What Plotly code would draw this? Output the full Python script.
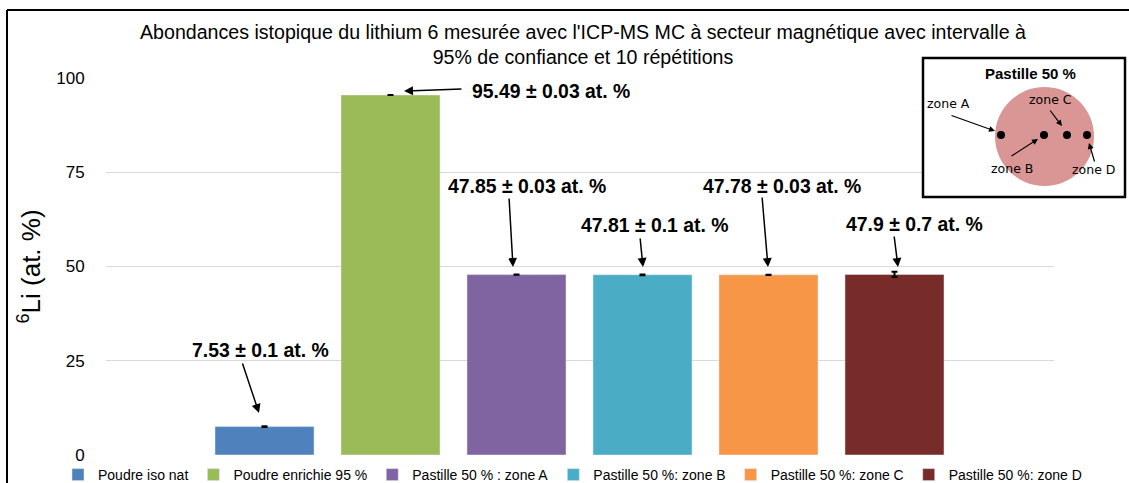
import plotly.graph_objects as go

# data
series = ["Poudre iso nat", "Poudre enrichie 95 %", "Pastille 50 % : zone A",
          "Pastille 50 %: zone B", "Pastille 50 %: zone C", "Pastille 50 %: zone D"]
values = [7.53, 95.49, 47.85, 47.81, 47.78, 47.9]
errors = [0.1, 0.03, 0.03, 0.1, 0.03, 0.7]
labels = ["7.53 ± 0.1 at. %", "95.49 ± 0.03 at. %", "47.85 ± 0.03 at. %",
          "47.81 ± 0.1 at. %", "47.78 ± 0.03 at. %", "47.9 ± 0.7 at. %"]
colors = ["#4F81BD", "#9BBB59", "#8064A2", "#4BACC6", "#F79646", "#772C2A"]
zones = ["zone A", "zone B", "zone C", "zone D"]

W, H = 1129, 483
L, R, T, B = 106, 1054, 78, 455  # plot area in pixels
FONT = "Liberation Sans, Arial, sans-serif"


def px(x):
    return (x - L) / (R - L)


def py(y):
    return (B - y) / (B - T)


fig = go.Figure()
for name, v, e, c in zip(series, values, errors, colors):
    fig.add_trace(go.Bar(
        x=[name], y=[v], name=name, marker_color=c, width=0.786,
        error_y=dict(type="data", array=[e], color="black", thickness=2, width=3),
    ))

# value labels and arrows (text centre, arrow tail, arrow head in pixels)
text_pos = [(260, 350), (551, 91), (527, 186), (655, 225), (782, 186), (914, 224)]
arrows = [((242, 362), (259, 413)), ((463, 89), (404, 91)), ((509, 197), (513, 267)),
          ((640, 237), (643, 267)), ((762, 196), (768, 267)), ((894, 235), (898, 267))]
ann = []
for lab, (tx, ty) in zip(labels, text_pos):
    ann.append(dict(x=px(tx), y=py(ty), xref="paper", yref="paper", text="<b>%s</b>" % lab,
                    xanchor="center", yanchor="middle", showarrow=False,
                    font=dict(size=19.4, color="black", family=FONT)))
for (t, h) in arrows:
    ann.append(dict(x=px(h[0]), y=py(h[1]), xref="paper", yref="paper", text="",
                    showarrow=True, ax=t[0] - h[0], ay=t[1] - h[1], arrowhead=2,
                    arrowsize=1.2, arrowwidth=1.5, arrowcolor="black", standoff=0))

# inset "Pastille 50 %"
shapes = [
    dict(type="line", xref="paper", yref="paper", x0=px(7), x1=px(7), y0=py(10), y1=py(490),
         line=dict(color="black", width=2)),
    dict(type="line", xref="paper", yref="paper", x0=px(7), x1=px(1135), y0=py(10), y1=py(10),
         line=dict(color="black", width=2)),
    dict(type="rect", xref="paper", yref="paper", x0=px(923), x1=px(1125), y0=py(58), y1=py(197),
         line=dict(color="black", width=2.5), fillcolor="white"),
    dict(type="circle", xref="paper", yref="paper", x0=px(995), x1=px(1094), y0=py(87), y1=py(186),
         line=dict(width=0), fillcolor="#D99694"),
]
dots = [(1001, 135), (1044, 135), (1067, 135), (1087, 135)]
for (dx, dy) in dots:
    shapes.append(dict(type="circle", xref="paper", yref="paper", x0=px(dx - 4), x1=px(dx + 4),
                       y0=py(dy - 4), y1=py(dy + 4), line=dict(width=0), fillcolor="black"))
ann.append(dict(x=px(1030), y=py(73), xref="paper", yref="paper", text="<b>Pastille 50 %</b>",
                xanchor="center", yanchor="middle", showarrow=False,
                font=dict(size=15, color="black", family=FONT)))
zone_text = [(948, 103), (1012, 168), (1050, 99), (1093, 169)]
zone_arrows = [((950, 115), (995, 131)), ((1010, 157), (1038, 139)),
               ((1049, 109), (1062, 126)), ((1095, 163), (1089, 143))]
for z, (tx, ty), (t, h) in zip(zones, zone_text, zone_arrows):
    ann.append(dict(x=px(tx), y=py(ty), xref="paper", yref="paper", text=z, showarrow=False,
                    xanchor="center", yanchor="middle",
                    font=dict(size=12.5, color="black", family="DejaVu Sans, sans-serif")))
    ann.append(dict(x=px(h[0]), y=py(h[1]), xref="paper", yref="paper", text="",
                    showarrow=True, ax=t[0] - h[0], ay=t[1] - h[1], arrowhead=2,
                    arrowsize=1, arrowwidth=1.2, arrowcolor="black", standoff=0))

fig.update_layout(
    width=W, height=H,
    margin=dict(l=L, r=W - R, t=T, b=H - B, pad=0, autoexpand=False),
    paper_bgcolor="white", plot_bgcolor="white",
    barmode="overlay",
    font=dict(family=FONT, color="black"),
    title=dict(text="Abondances istopique du lithium 6 mesurée avec l'ICP-MS MC à secteur magnétique avec intervalle à<br>95% de confiance et 10 répétitions",
               x=px(583), xref="paper", xanchor="center", y=1 - 39 / H, yanchor="middle",
               font=dict(size=19.6, color="black", family=FONT)),
    xaxis=dict(showticklabels=False, range=[-1.258, 6.266], showgrid=False, zeroline=False,
               showline=False, ticks=""),
    yaxis=dict(range=[0, 100], tickvals=[0, 25, 50, 75, 100], showgrid=True, gridcolor="#D9D9D9",
               gridwidth=1, zeroline=False, showline=False, ticks="outside", ticklen=17,
               tickcolor="rgba(0,0,0,0)", tickfont=dict(size=17, color="black"),
               title=dict(text="<sup>6</sup>Li (at. %)", font=dict(size=26, color="black"), standoff=8)),
    legend=dict(orientation="h", x=px(58), xanchor="left", y=py(475), yanchor="middle",
                font=dict(size=14, color="black"), itemwidth=30, tracegroupgap=0,
                bgcolor="rgba(0,0,0,0)"),
    annotations=ann, shapes=shapes,
)

fig.write_html("out.html", config={"displayModeBar": False},
               post_script="document.body.style.margin='0';")
